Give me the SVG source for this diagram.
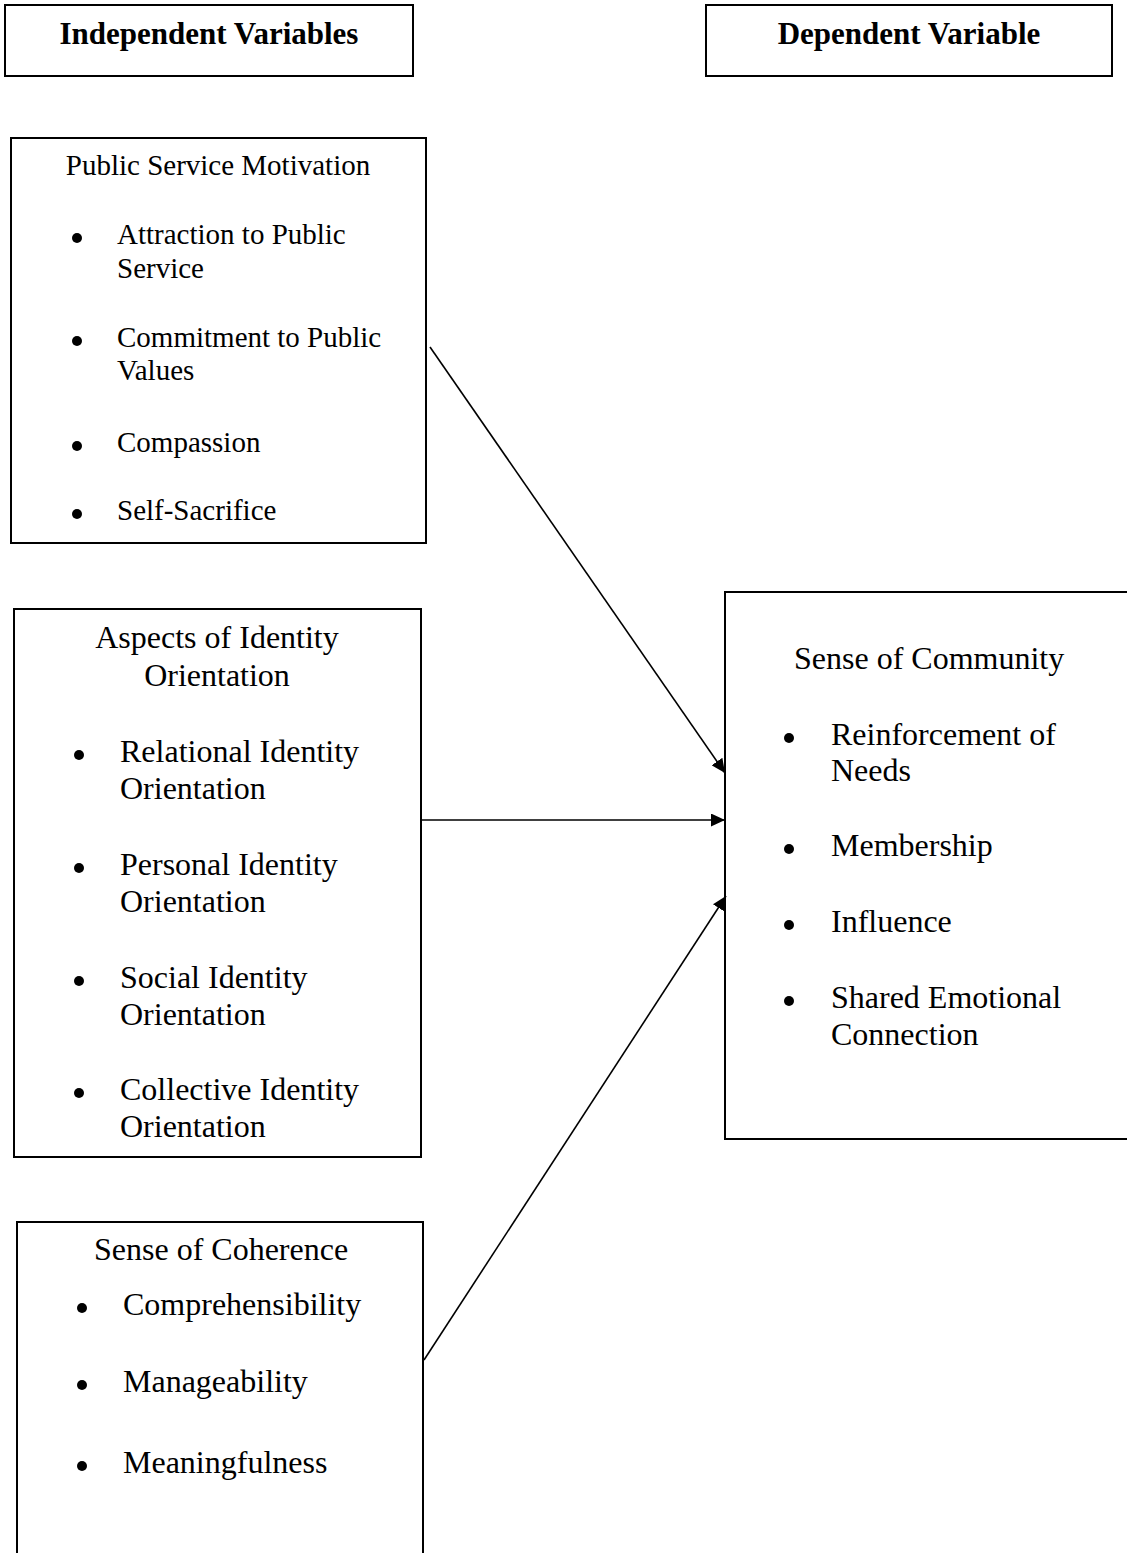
<svg xmlns="http://www.w3.org/2000/svg" width="1127" height="1553" viewBox="0 0 1127 1553">
<style>
.box{fill:#fff;stroke:#000;stroke-width:2}
.hd{font-family:"Liberation Serif","Times New Roman",serif;font-weight:bold;font-size:31px;fill:#000;text-anchor:middle}
.t29{font-family:"Liberation Serif","Times New Roman",serif;font-size:29px;fill:#000}
.t32{font-family:"Liberation Serif","Times New Roman",serif;font-size:32px;fill:#000}
.mid{text-anchor:middle}
.conn{stroke:#000;stroke-width:1.6;fill:none;marker-end:url(#ah)}
</style>
<defs>
<marker id="ah" markerUnits="userSpaceOnUse" markerWidth="15" markerHeight="13" refX="14" refY="6.5" orient="auto">
<path d="M0,0 L14,6.5 L0,13 z" fill="#000"/>
</marker>
</defs>
<rect width="1127" height="1553" fill="#fff"/>
<g id="header-independent">
<rect class="box" x="5" y="5" width="408" height="71"/>
<text class="hd" x="209" y="44">Independent Variables</text>
</g>
<g id="header-dependent">
<rect class="box" x="706" y="5" width="406" height="71"/>
<text class="hd" x="909" y="44">Dependent Variable</text>
</g>
<g id="public-service-motivation">
<rect class="box" x="11" y="138" width="415" height="405"/>
<text class="t29 mid" x="218" y="175">Public Service Motivation</text>
<circle cx="77" cy="238" r="5"/>
<text class="t29" x="117" y="244">Attraction to Public</text>
<text class="t29" x="117" y="278">Service</text>
<circle cx="77" cy="341" r="5"/>
<text class="t29" x="117" y="347">Commitment to Public</text>
<text class="t29" x="117" y="380">Values</text>
<circle cx="77" cy="446" r="5"/>
<text class="t29" x="117" y="452">Compassion</text>
<circle cx="77" cy="514" r="5"/>
<text class="t29" x="117" y="520">Self-Sacrifice</text>
</g>
<g id="identity-orientation">
<rect class="box" x="14" y="609" width="407" height="548"/>
<text class="t32 mid" x="217" y="648">Aspects of Identity</text>
<text class="t32 mid" x="217" y="686">Orientation</text>
<circle cx="79" cy="755" r="5"/>
<text class="t32" x="120" y="762">Relational Identity</text>
<text class="t32" x="120" y="799">Orientation</text>
<circle cx="79" cy="868" r="5"/>
<text class="t32" x="120" y="875">Personal Identity</text>
<text class="t32" x="120" y="912">Orientation</text>
<circle cx="79" cy="981" r="5"/>
<text class="t32" x="120" y="988">Social Identity</text>
<text class="t32" x="120" y="1025">Orientation</text>
<circle cx="79" cy="1093" r="5"/>
<text class="t32" x="120" y="1100">Collective Identity</text>
<text class="t32" x="120" y="1137">Orientation</text>
</g>
<g id="sense-of-community">
<rect class="box" x="725" y="592" width="420" height="547"/>
<text class="t32" x="794" y="669">Sense of Community</text>
<circle cx="789" cy="738" r="5"/>
<text class="t32" x="831" y="745">Reinforcement of</text>
<text class="t32" x="831" y="781">Needs</text>
<circle cx="789" cy="849" r="5"/>
<text class="t32" x="831" y="856">Membership</text>
<circle cx="789" cy="925" r="5"/>
<text class="t32" x="831" y="932">Influence</text>
<circle cx="789" cy="1001" r="5"/>
<text class="t32" x="831" y="1008">Shared Emotional</text>
<text class="t32" x="831" y="1045">Connection</text>
</g>
<g id="sense-of-coherence">
<rect class="box" x="17" y="1222" width="406" height="400"/>
<text class="t32" x="94" y="1260">Sense of Coherence</text>
<circle cx="82" cy="1308" r="5"/>
<text class="t32" x="123" y="1315">Comprehensibility</text>
<circle cx="82" cy="1385" r="5"/>
<text class="t32" x="123" y="1392">Manageability</text>
<circle cx="82" cy="1466" r="5"/>
<text class="t32" x="123" y="1473">Meaningfulness</text>
</g>
<g id="connectors">
<line class="conn" x1="430" y1="347" x2="725" y2="773"/>
<line class="conn" x1="421" y1="820" x2="725" y2="820"/>
<line class="conn" x1="424" y1="1360" x2="726" y2="896"/>
</g>
</svg>
